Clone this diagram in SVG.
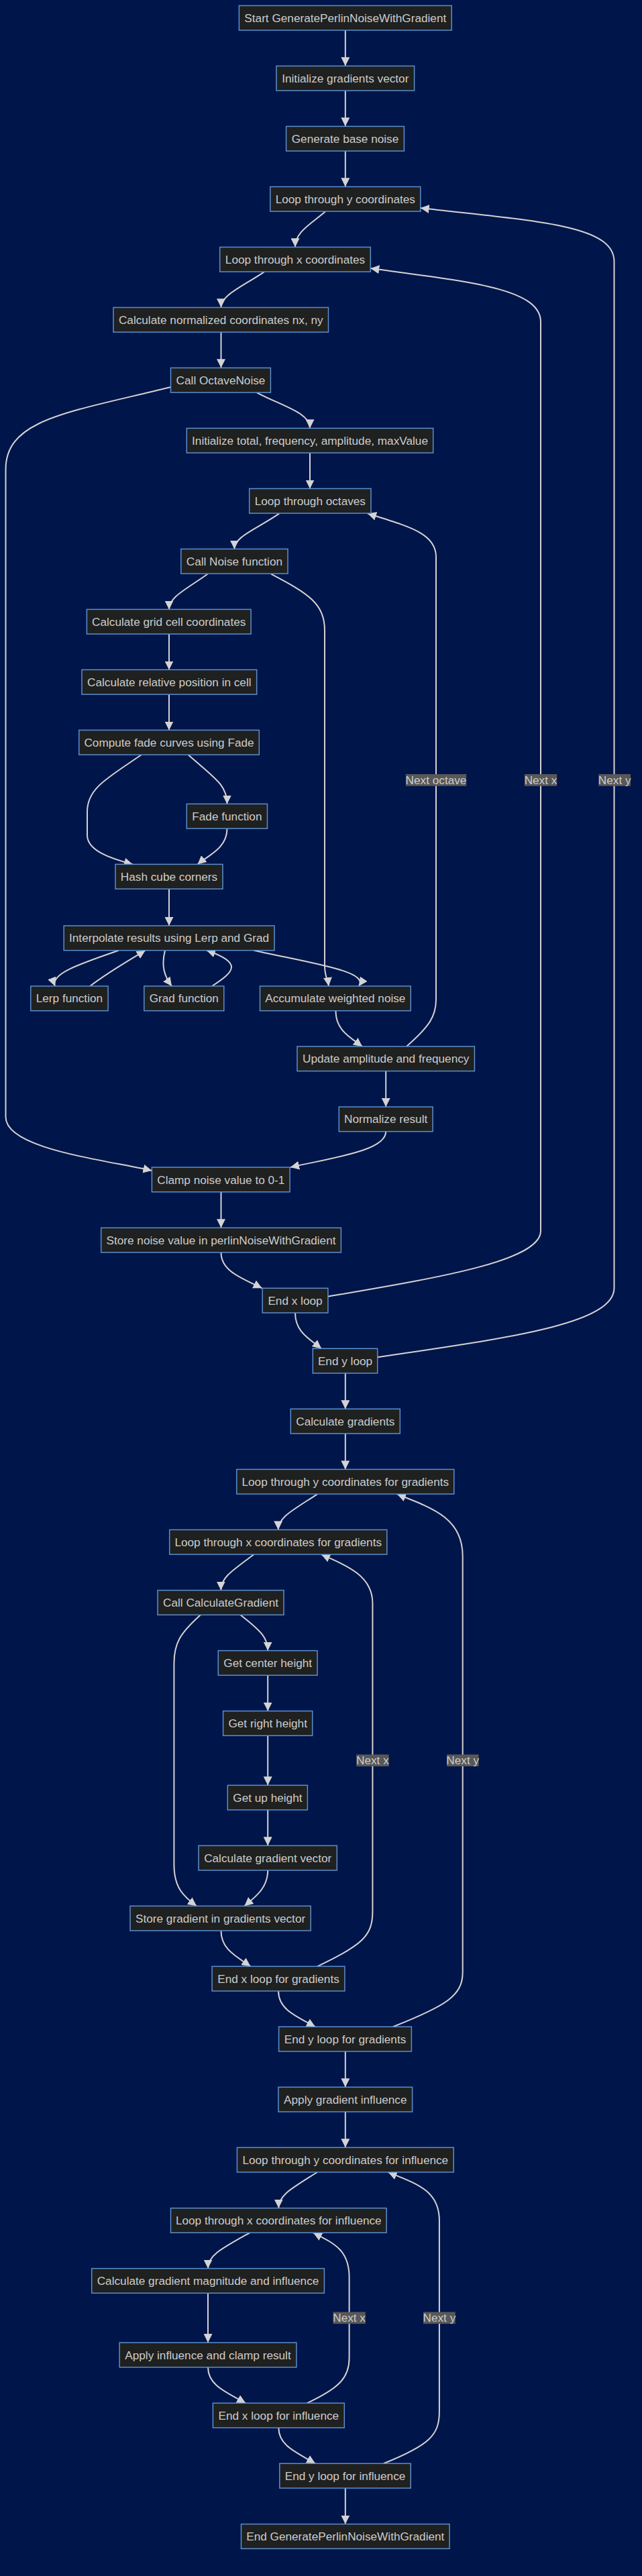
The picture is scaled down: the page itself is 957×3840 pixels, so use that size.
<svg xmlns="http://www.w3.org/2000/svg" width="957" height="3840" viewBox="0 0 957 3840">
<style>
.bg{fill:#00154a}
.node rect{fill:#1f2020;stroke:#5b8fcc;stroke-width:1.5}
.node text,.lbl text{font-family:"Liberation Sans",Arial,sans-serif;font-size:17.2px;fill:#cccccc;text-anchor:middle}
.edge{fill:none;stroke:#d3d3d3;stroke-width:2;marker-end:url(#arrow)}
.lbl rect{fill:#585858}
</style>
<defs>
<marker id="arrow" viewBox="0 0 10 10" refX="10" refY="5" markerWidth="13" markerHeight="13" markerUnits="userSpaceOnUse" orient="auto">
<path d="M0,0 L10,5 L0,10 z" fill="#d3d3d3"/>
</marker>
</defs>
<rect class="bg" x="0" y="0" width="957" height="3840"/>
<g id="connectors">
<path class="edge" d="M514.8,45.3 L514.8,98.3"/>
<path class="edge" d="M514.8,135.3 L514.8,188.3"/>
<path class="edge" d="M514.8,225.3 L514.8,278.3"/>
<path class="edge" d="M485,315.3 C465,333 440,345 440,368.3"/>
<path class="edge" d="M393.7,405.3 C360,428 329.5,440 329.5,458.3"/>
<path class="edge" d="M329.5,495.3 L329.5,548.3"/>
<path class="edge" d="M383,585.3 C420,605 462,615 462,638.3"/>
<path class="edge" d="M254.5,577 C100,615 8.5,625 8.5,700 L8.5,1665 C8.5,1712 150,1728 226.4,1745"/>
<path class="edge" d="M462,675.3 L462,728.5"/>
<path class="edge" d="M416.2,765.7 C380,790 349.4,800 349.4,818.5"/>
<path class="edge" d="M309.4,855.7 C275,880 252,890 252,908.5"/>
<path class="edge" d="M404,855.7 C460,885 484,900 484,940 L484,1440 C484,1455 489,1462 490,1470"/>
<path class="edge" d="M252,945.3 L252,998.5"/>
<path class="edge" d="M252,1035.3 L252,1088.5"/>
<path class="edge" d="M210.6,1125.3 C160,1160 130,1175 130,1210 L130,1245 C130,1268 165,1280 198,1288.5"/>
<path class="edge" d="M280.7,1125.3 C320,1160 338.5,1170 338.5,1198.5"/>
<path class="edge" d="M338.5,1235.3 C338.5,1265 310,1275 294.5,1288.5"/>
<path class="edge" d="M252,1325.3 L252,1380"/>
<path class="edge" d="M177,1416.7 C115,1438 75,1452 82,1470"/>
<path class="edge" d="M134.3,1470 C160,1450 195,1430 216.7,1416.7"/>
<path class="edge" d="M246,1416.7 C240,1440 245,1455 256,1470"/>
<path class="edge" d="M316,1470 C350,1448 362,1435 308,1416.7"/>
<path class="edge" d="M378.4,1416.7 C470,1437 550,1448 535,1470"/>
<path class="edge" d="M500.5,1506.7 C500.5,1535 520,1545 540,1559.9"/>
<path class="edge" d="M606,1559.9 C640,1530 650,1515 650,1490 L650,830 C650,795 610,785 548,765.5"/>
<path class="edge" d="M575.2,1596.6 L575.2,1650"/>
<path class="edge" d="M575.2,1686.7 C575.2,1715 500,1725 433,1740"/>
<path class="edge" d="M329.5,1776.9 L329.5,1830.3"/>
<path class="edge" d="M329.5,1867 C329.5,1895 360,1905 390.6,1920.3"/>
<path class="edge" d="M488.9,1932.7 C650,1905 806,1880 806,1835 L806,480 C806,430 700,420 552.3,400"/>
<path class="edge" d="M440,1957 C440,1985 460,1995 479,2010.3"/>
<path class="edge" d="M562.7,2023.3 C750,1995 915.5,1975 915.5,1920 L915.5,390 C915.5,335 800,330 626.8,310"/>
<path class="edge" d="M514.8,2047 L514.8,2100.3"/>
<path class="edge" d="M514.8,2137 L514.8,2190.4"/>
<path class="edge" d="M473,2227.3 C435,2252 414.7,2262 414.7,2280.4"/>
<path class="edge" d="M378.4,2317.3 C345,2342 329.3,2352 329.3,2370.6"/>
<path class="edge" d="M358.3,2407.3 C390,2432 399.2,2442 399.2,2460.6"/>
<path class="edge" d="M299,2407.3 C268,2435 259.4,2450 259.4,2480 L259.4,2780 C259.4,2815 275,2828 293,2841.3"/>
<path class="edge" d="M399.2,2497.3 L399.2,2550.6"/>
<path class="edge" d="M399.2,2587.3 L399.2,2661.3"/>
<path class="edge" d="M399.2,2698 L399.2,2751.3"/>
<path class="edge" d="M399.2,2788 C399.2,2815 380,2828 364.4,2841.3"/>
<path class="edge" d="M329.5,2878 C329.5,2905 350,2915 373.5,2931.3"/>
<path class="edge" d="M473,2931.3 C540,2900 555.4,2885 555.4,2850 L555.4,2390 C555.4,2350 520,2335 479,2317.3"/>
<path class="edge" d="M415,2968 C415,2995 440,3005 470,3021.3"/>
<path class="edge" d="M585.9,3021.3 C665,2990 689.7,2975 689.7,2940 L689.7,2320 C689.7,2265 650,2250 592,2227.3"/>
<path class="edge" d="M514.8,3058 L514.8,3111.3"/>
<path class="edge" d="M514.8,3148 L514.8,3201.3"/>
<path class="edge" d="M473,3238 C435,3262 415.3,3272 415.3,3291.6"/>
<path class="edge" d="M372.3,3328.3 C330,3352 310,3362 310,3381.6"/>
<path class="edge" d="M310,3418.3 L310,3492.1"/>
<path class="edge" d="M310,3528.8 C310,3555 335,3565 366.2,3582.3"/>
<path class="edge" d="M457.7,3582.3 C505,3560 520.6,3545 520.6,3515 L520.6,3395 C520.6,3355 500,3345 466.9,3328.3"/>
<path class="edge" d="M415.3,3619 C415.3,3645 440,3655 470,3672.3"/>
<path class="edge" d="M571.9,3672.3 C640,3645 654.9,3630 654.9,3595 L654.9,3310 C654.9,3265 620,3255 578.6,3238"/>
<path class="edge" d="M514.8,3709 L514.8,3762.6"/>
</g>
<g id="edge-labels">
<g class="lbl"><rect x="604.8" y="1154" width="90.4" height="17.7"/><text x="650" y="1168.8">Next octave</text></g>
<g class="lbl"><rect x="781.8" y="1154" width="48.4" height="17.7"/><text x="806" y="1168.8">Next x</text></g>
<g class="lbl"><rect x="892.3" y="1154" width="47.7" height="17.7"/><text x="916.2" y="1168.8">Next y</text></g>
<g class="lbl"><rect x="531.2" y="2615.4" width="48.4" height="17.7"/><text x="555.4" y="2630.2">Next x</text></g>
<g class="lbl"><rect x="665.9" y="2615.4" width="47.7" height="17.7"/><text x="689.7" y="2630.2">Next y</text></g>
<g class="lbl"><rect x="496.4" y="3446.4" width="48.4" height="17.7"/><text x="520.6" y="3461.2">Next x</text></g>
<g class="lbl"><rect x="631" y="3446.4" width="47.7" height="17.7"/><text x="654.9" y="3461.2">Next y</text></g>
</g>
<g id="n_start" class="node"><rect x="356.4" y="8.4" width="316.8" height="36.7"/><text x="514.8" y="32.8">Start GeneratePerlinNoiseWithGradient</text></g>
<g id="n_initgrad" class="node"><rect x="412" y="98.4" width="205.6" height="36.7"/><text x="514.8" y="122.8">Initialize gradients vector</text></g>
<g id="n_basenoise" class="node"><rect x="426.6" y="188.4" width="175.8" height="36.7"/><text x="514.5" y="212.8">Generate base noise</text></g>
<g id="n_loopy" class="node"><rect x="402.8" y="278.4" width="224" height="36.7"/><text x="514.8" y="302.8">Loop through y coordinates</text></g>
<g id="n_loopx" class="node"><rect x="327.7" y="368.4" width="224.6" height="36.7"/><text x="440" y="392.8">Loop through x coordinates</text></g>
<g id="n_calcnorm" class="node"><rect x="169" y="458.4" width="320.5" height="36.7"/><text x="329.3" y="482.8">Calculate normalized coordinates nx, ny</text></g>
<g id="n_octave" class="node"><rect x="254.5" y="548.4" width="148.9" height="36.7"/><text x="329" y="572.8">Call OctaveNoise</text></g>
<g id="n_inittotal" class="node"><rect x="278.3" y="638.4" width="367.4" height="36.7"/><text x="462" y="662.8">Initialize total, frequency, amplitude, maxValue</text></g>
<g id="n_loopoct" class="node"><rect x="371.7" y="728.4" width="181.3" height="36.7"/><text x="462.3" y="752.8">Loop through octaves</text></g>
<g id="n_callnoise" class="node"><rect x="269.8" y="818.4" width="159.2" height="36.7"/><text x="349.4" y="842.8">Call Noise function</text></g>
<g id="n_gridcell" class="node"><rect x="129.4" y="908.4" width="244.7" height="36.7"/><text x="251.7" y="932.8">Calculate grid cell coordinates</text></g>
<g id="n_relpos" class="node"><rect x="122" y="998.4" width="260.7" height="36.7"/><text x="252.3" y="1022.8">Calculate relative position in cell</text></g>
<g id="n_fadecurves" class="node"><rect x="117.8" y="1088.4" width="268.5" height="36.7"/><text x="252" y="1112.8">Compute fade curves using Fade</text></g>
<g id="n_fadefn" class="node"><rect x="278.3" y="1198.4" width="120.2" height="36.7"/><text x="338.4" y="1222.8">Fade function</text></g>
<g id="n_hash" class="node"><rect x="172" y="1288.4" width="160" height="36.7"/><text x="252" y="1312.8">Hash cube corners</text></g>
<g id="n_interp" class="node"><rect x="95.2" y="1380" width="313.8" height="36.7"/><text x="252.1" y="1404.4">Interpolate results using Lerp and Grad</text></g>
<g id="n_lerp" class="node"><rect x="45.8" y="1470" width="115.3" height="36.7"/><text x="103.4" y="1494.4">Lerp function</text></g>
<g id="n_grad" class="node"><rect x="214.8" y="1470" width="119" height="36.7"/><text x="274.3" y="1494.4">Grad function</text></g>
<g id="n_accum" class="node"><rect x="387.5" y="1470" width="224.7" height="36.7"/><text x="499.8" y="1494.4">Accumulate weighted noise</text></g>
<g id="n_update" class="node"><rect x="443" y="1559.9" width="264.4" height="36.7"/><text x="575.2" y="1584.3">Update amplitude and frequency</text></g>
<g id="n_normalize" class="node"><rect x="505.3" y="1650" width="139.8" height="36.7"/><text x="575.2" y="1674.4">Normalize result</text></g>
<g id="n_clamp" class="node"><rect x="226.4" y="1740.1" width="205.7" height="36.7"/><text x="329.3" y="1764.5">Clamp noise value to 0-1</text></g>
<g id="n_store" class="node"><rect x="150.7" y="1830.3" width="357.7" height="36.7"/><text x="329.5" y="1854.7">Store noise value in perlinNoiseWithGradient</text></g>
<g id="n_endx" class="node"><rect x="391.2" y="1920.3" width="97.7" height="36.7"/><text x="440" y="1944.7">End x loop</text></g>
<g id="n_endy" class="node"><rect x="466.3" y="2010.3" width="96.4" height="36.7"/><text x="514.5" y="2034.7">End y loop</text></g>
<g id="n_calcgrads" class="node"><rect x="433.3" y="2100.3" width="163" height="36.7"/><text x="514.8" y="2124.7">Calculate gradients</text></g>
<g id="n_loopyg" class="node"><rect x="352.8" y="2190.4" width="324" height="36.7"/><text x="514.8" y="2214.8">Loop through y coordinates for gradients</text></g>
<g id="n_loopxg" class="node"><rect x="252.7" y="2280.4" width="324.1" height="36.7"/><text x="414.7" y="2304.8">Loop through x coordinates for gradients</text></g>
<g id="n_callcg" class="node"><rect x="235" y="2370.6" width="188" height="36.7"/><text x="329" y="2395">Call CalculateGradient</text></g>
<g id="n_center" class="node"><rect x="325.3" y="2460.6" width="147.7" height="36.7"/><text x="399.2" y="2485">Get center height</text></g>
<g id="n_right" class="node"><rect x="332.6" y="2550.6" width="133.1" height="36.7"/><text x="399.2" y="2575">Get right height</text></g>
<g id="n_up" class="node"><rect x="339.3" y="2661.3" width="119.1" height="36.7"/><text x="398.9" y="2685.7">Get up height</text></g>
<g id="n_gradvec" class="node"><rect x="296" y="2751.3" width="206.3" height="36.7"/><text x="399.2" y="2775.7">Calculate gradient vector</text></g>
<g id="n_storegrad" class="node"><rect x="194" y="2841.3" width="269.2" height="36.7"/><text x="328.6" y="2865.7">Store gradient in gradients vector</text></g>
<g id="n_endxg" class="node"><rect x="316.1" y="2931.3" width="197.8" height="36.7"/><text x="415" y="2955.7">End x loop for gradients</text></g>
<g id="n_endyg" class="node"><rect x="415.6" y="3021.3" width="197.8" height="36.7"/><text x="514.5" y="3045.7">End y loop for gradients</text></g>
<g id="n_applygi" class="node"><rect x="415" y="3111.3" width="199.6" height="36.7"/><text x="514.8" y="3135.7">Apply gradient influence</text></g>
<g id="n_loopyi" class="node"><rect x="353.4" y="3201.3" width="322.8" height="36.7"/><text x="514.8" y="3225.7">Loop through y coordinates for influence</text></g>
<g id="n_loopxi" class="node"><rect x="254.5" y="3291.6" width="321.6" height="36.7"/><text x="415.3" y="3316">Loop through x coordinates for influence</text></g>
<g id="n_calcmag" class="node"><rect x="136.7" y="3381.6" width="346.7" height="36.7"/><text x="310" y="3406">Calculate gradient magnitude and influence</text></g>
<g id="n_applyinfl" class="node"><rect x="178.2" y="3492.1" width="263.7" height="36.7"/><text x="310" y="3516.5">Apply influence and clamp result</text></g>
<g id="n_endxi" class="node"><rect x="317.4" y="3582.3" width="195.9" height="36.7"/><text x="415.3" y="3606.7">End x loop for influence</text></g>
<g id="n_endyi" class="node"><rect x="416.8" y="3672.3" width="195.4" height="36.7"/><text x="514.5" y="3696.7">End y loop for influence</text></g>
<g id="n_end" class="node"><rect x="359.5" y="3762.6" width="310.6" height="36.7"/><text x="514.8" y="3787">End GeneratePerlinNoiseWithGradient</text></g>
</svg>
